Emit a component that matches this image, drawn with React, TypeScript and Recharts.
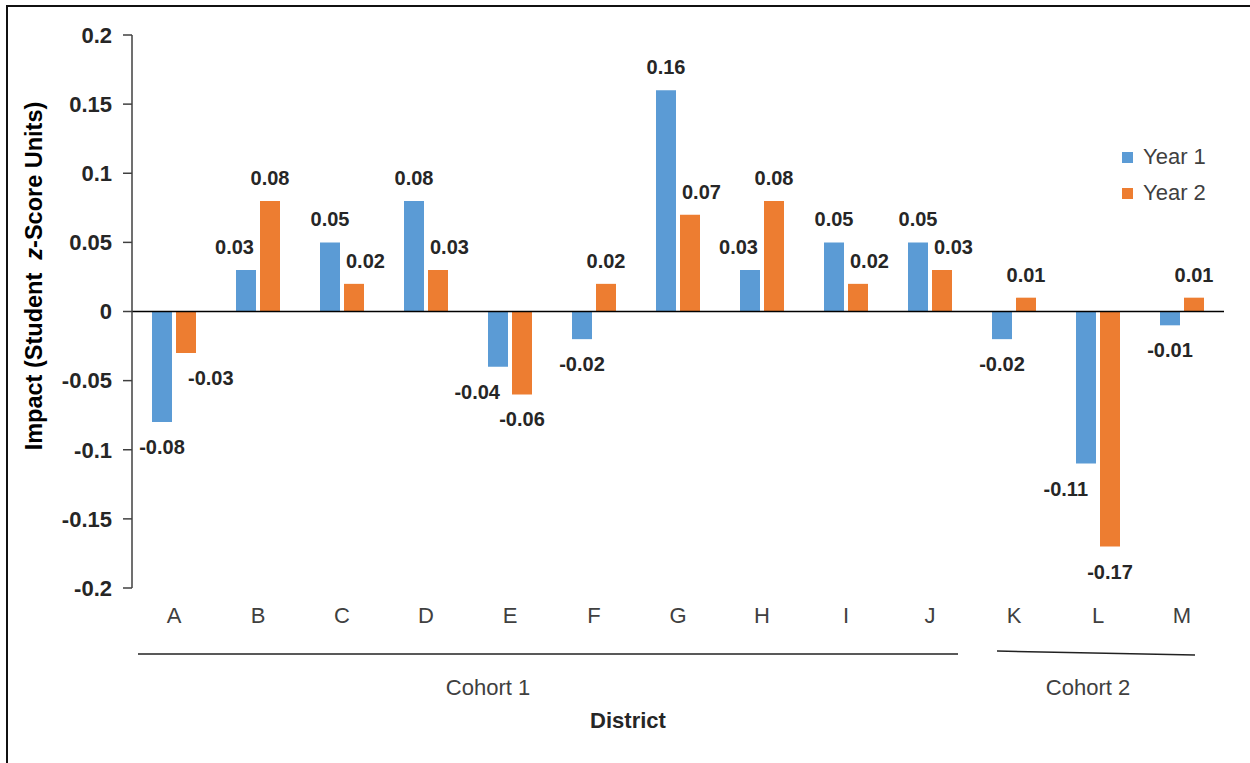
import { Bar, BarChart, ReferenceLine, XAxis, YAxis } from "recharts";

const districts = ["A", "B", "C", "D", "E", "F", "G", "H", "I", "J", "K", "L", "M"];
const yearOne = [-0.08, 0.03, 0.05, 0.08, -0.04, -0.02, 0.16, 0.03, 0.05, 0.05, -0.02, -0.11, -0.01];
const yearTwo = [-0.03, 0.08, 0.02, 0.03, -0.06, 0.02, 0.07, 0.08, 0.02, 0.03, 0.01, -0.17, 0.01];
const yTicks = [-0.2, -0.15, -0.1, -0.05, 0, 0.05, 0.1, 0.15, 0.2];
const cohortNames = ["Cohort 1", "Cohort 2"];

const BLUE = "#5B9BD5";
const ORANGE = "#ED7D31";
const FONT = "'Liberation Sans', Arial, sans-serif";

const data = districts.map((name, i) => ({ name, y1: yearOne[i], y2: yearTwo[i] }));

// hand-drawn bracket lines under the district names
const cohortMarks = [
  { x1: 138, y1: 654, x2: 958, y2: 654, labelX: 488 },
  { x1: 997, y1: 651, x2: 1195, y2: 655, labelX: 1088 },
];

function makeLabel(own: number[], other: number[], side: "left" | "right") {
  return (props: any) => {
    const { x, y, width, height, index } = props;
    const v = own[index];
    const top = Math.min(y, y + height);
    const bottom = Math.max(y, y + height);
    const neg = v < 0;
    const cy = neg ? bottom + 25 : top - 23;
    const sib = other[index];
    // excel-style nudge: move label off a taller neighbour bar
    const shaded = Math.sign(sib) === Math.sign(v) && Math.abs(sib) > Math.abs(v);
    let tx = x + width / 2;
    let anchor: "middle" | "start" | "end" = "middle";
    if (shaded) {
      if (side === "left") {
        tx = x + width - (neg ? 8 : 2);
        anchor = "end";
      } else {
        tx = x + (neg ? 12 : 2);
        anchor = "start";
      }
    }
    return (
      <text
        key={`${side}-${index}`}
        x={tx}
        y={cy}
        dy="0.35em"
        textAnchor={anchor}
        fontFamily={FONT}
        fontSize={20}
        fontWeight="bold"
        fill="#262626"
      >
        {v.toFixed(2)}
      </text>
    );
  };
}

function Legend() {
  const items = [
    { label: "Year 1", color: BLUE },
    { label: "Year 2", color: ORANGE },
  ];
  return (
    <div style={{ position: "absolute", left: 1122, top: 139, fontFamily: FONT, fontSize: 22, color: "#404040" }}>
      {items.map((it) => (
        <div key={it.label} style={{ display: "flex", alignItems: "center", height: 36 }}>
          <span style={{ width: 11, height: 11, background: it.color, marginRight: 10, display: "inline-block" }} />
          <span>{it.label}</span>
        </div>
      ))}
    </div>
  );
}

export default function App() {
  return (
    <div style={{ position: "absolute", left: 0, top: 0, width: 1250, height: 763, background: "#fff" }}>
      <div
        style={{
          position: "absolute",
          left: 6,
          top: 5,
          width: 1244,
          height: 758,
          borderTop: "2px solid #111",
          borderLeft: "2px solid #111",
          boxSizing: "border-box",
        }}
      />
      <BarChart
        width={1250}
        height={763}
        data={data}
        margin={{ top: 35, right: 26, left: 0, bottom: 145 }}
        barSize={20}
        barGap={4}
        style={{ position: "absolute", left: 0, top: 0 }}
      >
        <XAxis
          dataKey="name"
          axisLine={false}
          tickLine={false}
          tickMargin={13}
          height={30}
          interval={0}
          tick={{ fontFamily: FONT, fontSize: 22, fill: "#404040" }}
        />
        <YAxis
          width={132}
          domain={[-0.2, 0.2]}
          ticks={yTicks}
          tickFormatter={(v: number) => String(v)}
          tickSize={9}
          tickMargin={11}
          allowDataOverflow
          axisLine={{ stroke: "#404040", strokeWidth: 1.5 }}
          tickLine={{ stroke: "#404040", strokeWidth: 1.5 }}
          tick={{ fontFamily: FONT, fontSize: 22, fontWeight: "bold", fill: "#262626" }}
        />
        <ReferenceLine y={0} stroke="#000" strokeWidth={1.5} />
        <Bar dataKey="y1" fill={BLUE} isAnimationActive={false} label={makeLabel(yearOne, yearTwo, "left")} />
        <Bar dataKey="y2" fill={ORANGE} isAnimationActive={false} label={makeLabel(yearTwo, yearOne, "right")} />
      </BarChart>
      <svg width={1250} height={763} style={{ position: "absolute", left: 0, top: 0, pointerEvents: "none" }}>
        <text
          transform="translate(34, 276) rotate(-90)"
          textAnchor="middle"
          dy="0.35em"
          fontFamily={FONT}
          fontSize={23.5}
          fontWeight="bold"
          fill="#000"
          style={{ whiteSpace: "pre" }}
        >
          {"Impact (Student  "}
          <tspan fontStyle="italic">z</tspan>
          {"-Score Units)"}
        </text>
        {cohortMarks.map((m, i) => (
          <g key={cohortNames[i]}>
            <line x1={m.x1} y1={m.y1} x2={m.x2} y2={m.y2} stroke="#222" strokeWidth={1.5} />
            <text x={m.labelX} y={687} dy="0.35em" textAnchor="middle" fontFamily={FONT} fontSize={22} fill="#404040">
              {cohortNames[i]}
            </text>
          </g>
        ))}
        <text x={628} y={720} dy="0.35em" textAnchor="middle" fontFamily={FONT} fontSize={22} fontWeight="bold" fill="#262626">
          District
        </text>
      </svg>
      <Legend />
    </div>
  );
}
